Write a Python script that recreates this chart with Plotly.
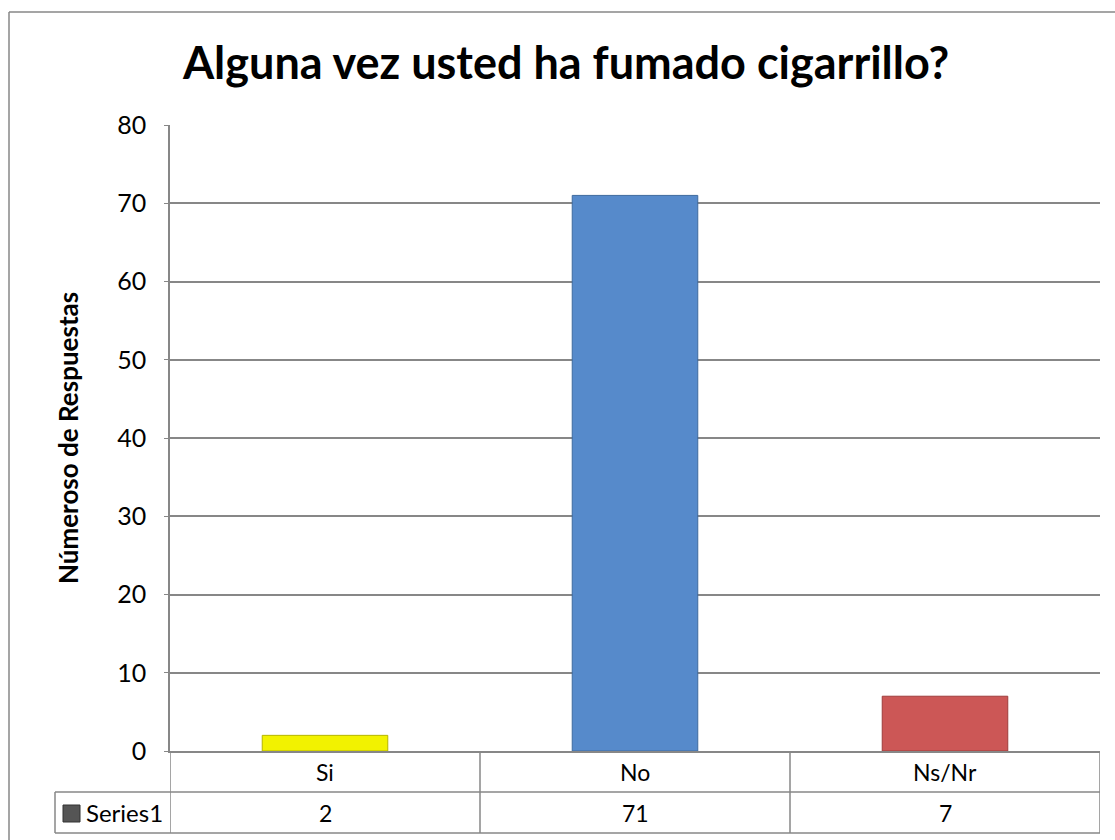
import plotly.graph_objects as go

# ---- data ----
categories = ["Si", "No", "Ns/Nr"]
values = [2, 71, 7]
series_name = "Series1"
chart_title = "Alguna vez usted ha fumado cigarrillo?"
y_title = "Númeroso de Respuestas"
y_ticks = [0, 10, 20, 30, 40, 50, 60, 70, 80]

# ---- style ----
bar_colors = ["#F2F200", "#568ACB", "#CC5756"]
bar_edges = ["#B5B500", "#3E6A9E", "#9E3C3B"]
FONT = "Lato"
GRID = "#878787"

W, H = 1115, 840
L, R, T, B = 170, 15, 125, 89
PW, PH = W - L - R, H - T - B


def px_x(x):
    return (x - L) / PW


def px_y(y):
    return (H - B - y) / PH


fig = go.Figure()
fig.add_trace(go.Bar(
    x=categories, y=values, name=series_name,
    marker=dict(color=bar_colors, line=dict(color=bar_edges, width=1)),
    width=0.405, showlegend=False,
))

row1 = px_y(792)
row2 = px_y(833)
shapes = []
# table lines
shapes.append(dict(type="line", xref="paper", yref="paper", x0=px_x(55), x1=1, y0=row1, y1=row1,
                   line=dict(color=GRID, width=1.5)))
shapes.append(dict(type="line", xref="paper", yref="paper", x0=px_x(55), x1=1, y0=row2, y1=row2,
                   line=dict(color=GRID, width=1.5)))
shapes.append(dict(type="line", xref="paper", yref="paper", x0=px_x(55), x1=px_x(55), y0=row1, y1=row2,
                   line=dict(color=GRID, width=1.5)))
for i in range(len(categories) + 1):
    shapes.append(dict(type="line", xref="x", yref="paper", x0=i - 0.5, x1=i - 0.5, y0=0, y1=row2,
                       line=dict(color=GRID, width=1.5)))
# legend key
shapes.append(dict(type="rect", xref="paper", yref="paper", x0=px_x(63), x1=px_x(80),
                   y0=px_y(805), y1=px_y(822), fillcolor="#555555",
                   line=dict(color="#333333", width=1)))
# outer chart border
shapes.append(dict(type="line", xref="paper", yref="paper", x0=px_x(9), x1=px_x(9),
                   y0=px_y(12), y1=px_y(845), line=dict(color=GRID, width=1.5)))
shapes.append(dict(type="line", xref="paper", yref="paper", x0=px_x(9), x1=px_x(1120),
                   y0=px_y(12), y1=px_y(12), line=dict(color=GRID, width=1.5)))

annotations = []
for i, (c, v) in enumerate(zip(categories, values)):
    annotations.append(dict(x=c, y=(0 + row1) / 2, xref="x", yref="paper", text=c, showarrow=False,
                            font=dict(family=FONT, size=23, color="black"), yanchor="middle"))
    annotations.append(dict(x=c, y=(row1 + row2) / 2, xref="x", yref="paper", text=str(v), showarrow=False,
                            font=dict(family=FONT, size=23, color="black"), yanchor="middle"))
annotations.append(dict(x=px_x(84), y=(row1 + row2) / 2, xref="paper", yref="paper", text=series_name,
                        showarrow=False, xanchor="left", yanchor="middle",
                        font=dict(family=FONT, size=24, color="black")))
annotations.append(dict(x=px_x(68), y=0.5, xref="paper", yref="paper", text="<b>" + y_title + "</b>",
                        showarrow=False, textangle=-90, xanchor="center", yanchor="middle",
                        font=dict(family=FONT, size=26, color="black")))

fig.update_layout(
    width=W, height=H,
    margin=dict(l=L, r=R, t=T, b=B),
    paper_bgcolor="white", plot_bgcolor="white",
    title=dict(text="<b>" + chart_title + "</b>", x=566 / W, xanchor="center",
               y=1 - 63 / H, yanchor="middle", font=dict(family=FONT, size=45, color="black")),
    shapes=shapes, annotations=annotations,
    bargap=0.6,
)
fig.update_xaxes(range=[-0.5, 2.5], showticklabels=False, showgrid=False, showline=True,
                 linecolor=GRID, linewidth=1.5, ticks="", fixedrange=True)
fig.update_yaxes(range=[0, 80], tickvals=y_ticks, showgrid=True, gridcolor=GRID, gridwidth=1.5,
                 showline=True, linecolor=GRID, linewidth=1.5, ticks="outside", ticklen=4,
                 tickcolor=GRID, ticklabelstandoff=13, zeroline=False,
                 tickfont=dict(family=FONT, size=25, color="black"))

fig.write_html("out.html", config={"displayModeBar": False},
               post_script="document.body.style.margin='0';")
